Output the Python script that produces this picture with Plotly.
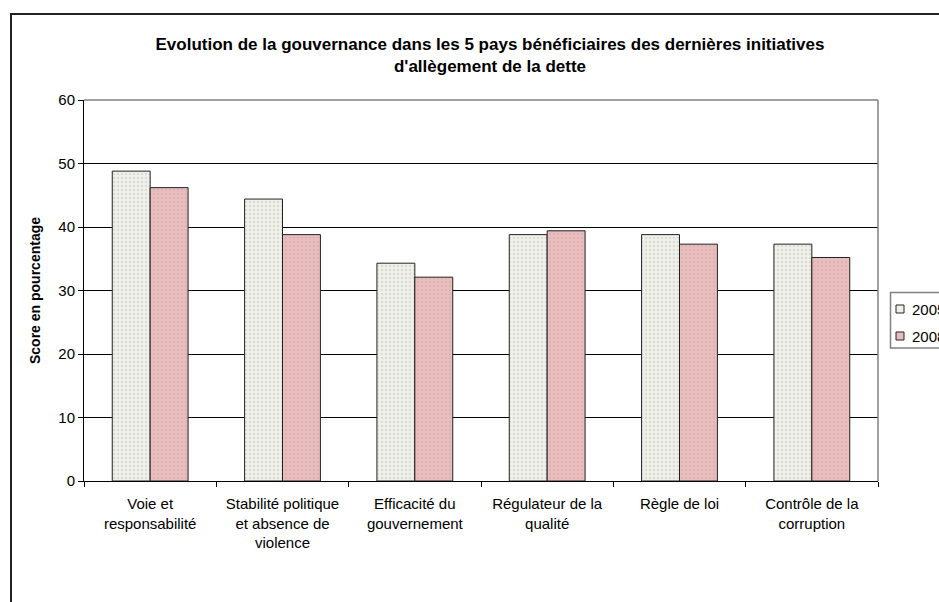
import plotly.graph_objects as go

categories = [
    "Voie et<br>responsabilité",
    "Stabilité politique<br>et absence de<br>violence",
    "Efficacité du<br>gouvernement",
    "Régulateur de la<br>qualité",
    "Règle de loi",
    "Contrôle de la<br>corruption",
]
series_names = ["2005", "2008"]
values_2005 = [48.8, 44.4, 34.3, 38.8, 38.8, 37.3]
values_2008 = [46.2, 38.8, 32.1, 39.4, 37.3, 35.2]
y_ticks = [0, 10, 20, 30, 40, 50, 60]

W, H = 939, 602
L, R, T, B = 84, 61, 100, 121
pw, ph = W - L - R, H - T - B

def px_to_paper_x(px):
    return (px - L) / pw

def px_to_paper_y(py):
    return (H - B - py) / ph

fills = [
    dict(color="#F0F0EA", fg="#C4C4BE"),
    dict(color="#E8BDBD", fg="#D4A4A4"),
]

fig = go.Figure()
for name, vals, f in zip(series_names, [values_2005, values_2008], fills):
    fig.add_trace(go.Bar(
        x=categories, y=vals, name=name, showlegend=False,
        marker=dict(color=f["color"], line=dict(color="#222222", width=1),
                    pattern=dict(shape=".", fgcolor=f["fg"], bgcolor=f["color"], size=4, solidity=0.25)),
    ))

font = "Liberation Sans, Arial, sans-serif"

shapes = [
    dict(type="line", xref="paper", yref="paper", x0=0, x1=1, y0=1, y1=1,
         line=dict(color="#808080", width=1.5), layer="above"),
    dict(type="line", xref="paper", yref="paper", x0=1, x1=1, y0=0, y1=1,
         line=dict(color="#808080", width=1.5), layer="above"),
    dict(type="rect", xref="paper", yref="paper",
         x0=px_to_paper_x(11), x1=px_to_paper_x(960),
         y0=px_to_paper_y(620), y1=px_to_paper_y(14),
         line=dict(color="#222222", width=2), fillcolor="rgba(0,0,0,0)", layer="below"),
    # legend box
    dict(type="rect", xref="paper", yref="paper",
         x0=px_to_paper_x(890.5), x1=px_to_paper_x(960),
         y0=px_to_paper_y(348), y1=px_to_paper_y(292.5),
         line=dict(color="#808080", width=1.5), fillcolor="white", layer="above"),
]
annotations = []
legend_y = [309, 336]
for name, f, ly in zip(series_names, fills, legend_y):
    shapes.append(dict(type="rect", xref="paper", yref="paper",
                       x0=px_to_paper_x(896), x1=px_to_paper_x(904),
                       y0=px_to_paper_y(ly + 4), y1=px_to_paper_y(ly - 4),
                       line=dict(color="#222222", width=1), fillcolor=f["color"], layer="above"))
    annotations.append(dict(xref="paper", yref="paper", x=px_to_paper_x(910), y=px_to_paper_y(ly),
                            xanchor="left", yanchor="middle", text=name, showarrow=False,
                            font=dict(size=15, family=font, color="black")))

fig.update_layout(
    width=W, height=H,
    margin=dict(l=L, r=R, t=T, b=B),
    paper_bgcolor="white", plot_bgcolor="white",
    barmode="group", bargap=0.427, bargroupgap=0,
    showlegend=False,
    font=dict(family=font, size=15, color="black"),
    title=dict(
        text="<b>Evolution de la gouvernance dans les 5 pays bénéficiaires des dernières initiatives<br>d'allègement de la dette</b>",
        x=px_to_paper_x(490), xref="paper", xanchor="center",
        y=1 - 50 / H, yanchor="middle", font=dict(size=17, family=font),
    ),
    xaxis=dict(
        showline=True, linecolor="black", linewidth=1,
        ticks="outside", tickson="boundaries", ticklen=5, tickcolor="black",
        tickfont=dict(size=15), showgrid=False, ticklabelstandoff=9,
    ),
    yaxis=dict(
        range=[0, 60], tickvals=y_ticks, showline=True, linecolor="black", linewidth=1,
        ticks="outside", ticklen=5, tickcolor="black",
        showgrid=True, gridcolor="black", gridwidth=1, zeroline=False,
        title=dict(text="<b>Score en pourcentage</b>", font=dict(size=14), standoff=14),
        tickfont=dict(size=15),
    ),
    shapes=shapes,
    annotations=annotations,
)

fig.write_html("out.html")
